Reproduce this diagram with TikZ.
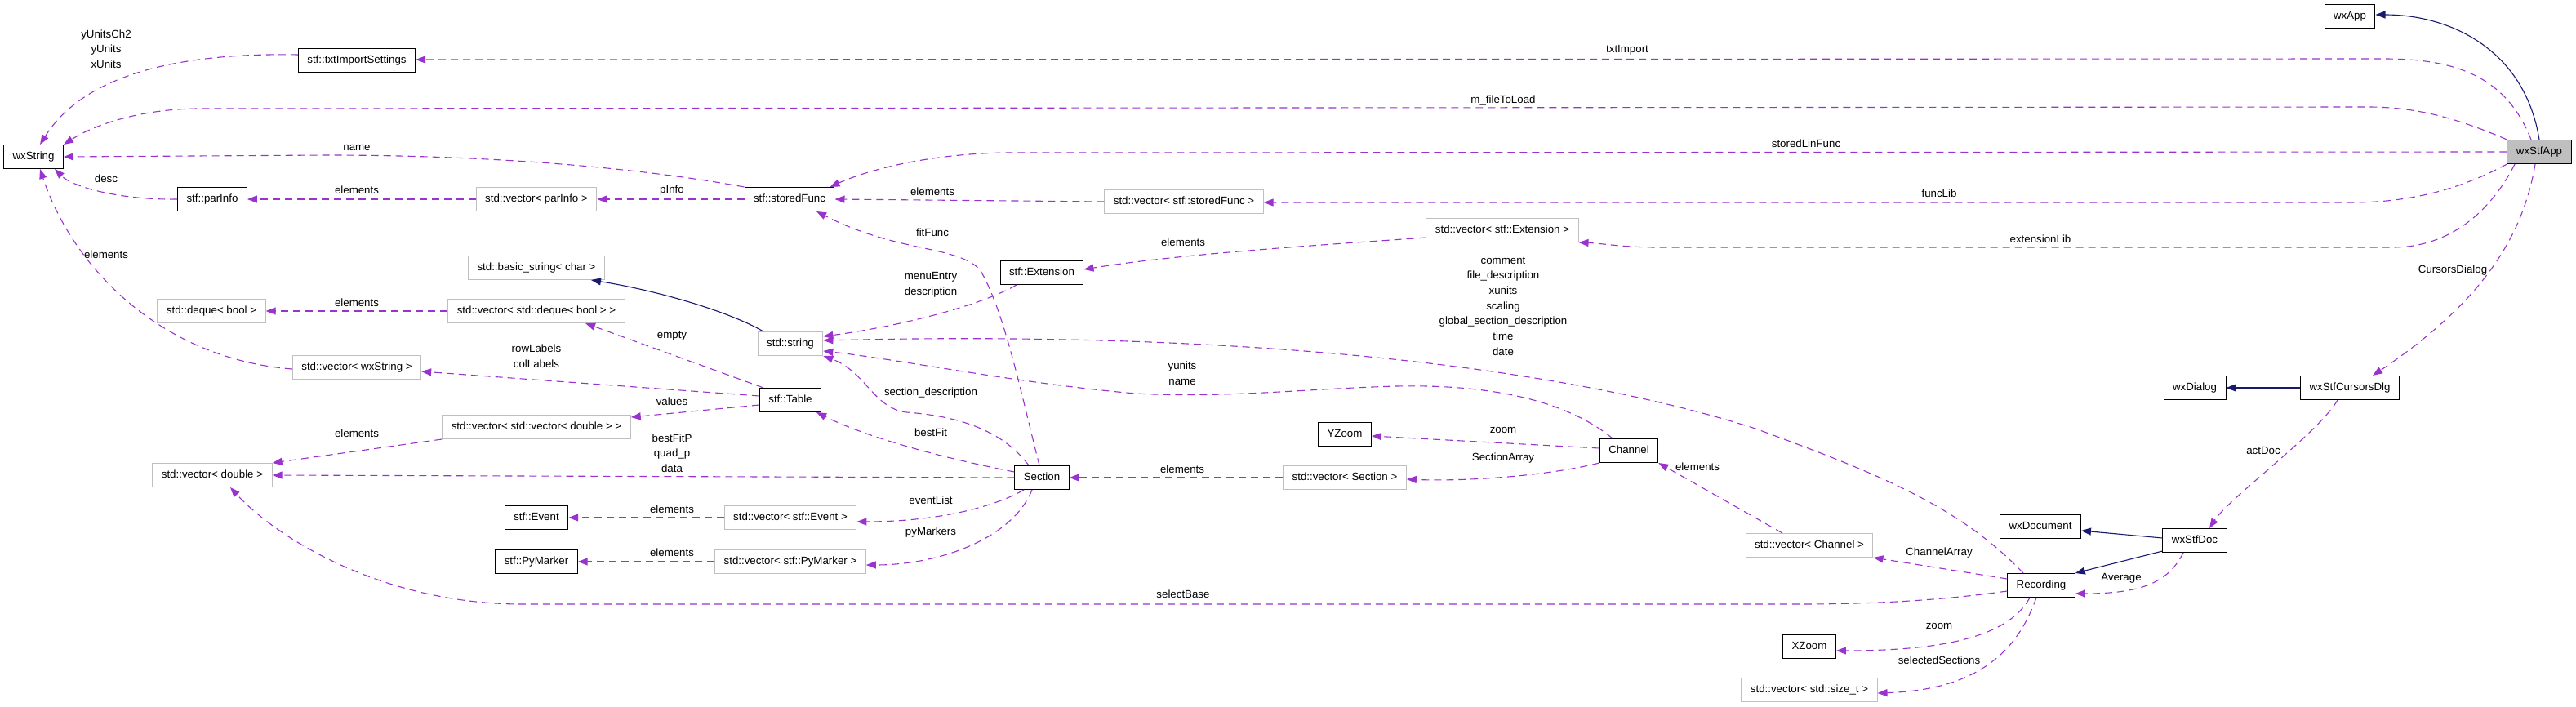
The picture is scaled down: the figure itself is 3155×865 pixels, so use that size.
\documentclass[tikz,border=0pt]{standalone}
\usepackage{fontspec}
\setmainfont{Liberation Sans}
\usepackage{tikz}
\usetikzlibrary{arrows.meta}

\definecolor{usecol}{HTML}{9A32CD}
\definecolor{inhcol}{HTML}{191970}
\definecolor{boxgray}{HTML}{BFBFBF}

\tikzset{
  cls/.style={draw=black, line width=1pt, fill=white, font=\fontsize{13.3}{18.7}\selectfont,
    minimum height=29pt, inner xsep=11pt, inner ysep=0pt, text height=10pt, text depth=3pt},
  ext/.style={cls, draw=boxgray},
  mainbox/.style={cls, fill=boxgray},
  lbl/.style={font=\fontsize{13.3}{18.7}\selectfont, inner sep=0pt, align=center},
  uses/.style={draw=usecol, line width=1.1pt, dash pattern=on 9pt off 6pt,
    -{Triangle[length=12pt,width=9pt]}},
  inherits/.style={draw=inhcol, line width=1.1pt, -{Triangle[length=12pt,width=9pt]}}
}

\begin{document}
\begin{tikzpicture}[x=1pt, y=-1pt]
        \useasboundingbox (0,0) rectangle (3155,865);

        % Nodes
        \node[mainbox] (wxStfApp) at (3110,186) {wxStfApp};
        \node[cls] (wxApp) at (2878,20) {wxApp};
        \node[cls] (txtImportSettings) at (437,74) {stf::txtImportSettings};
        \node[cls] (wxString) at (41,192) {wxString};
        \node[cls] (parInfo) at (260,244) {stf::parInfo};
        \node[ext] (vecParInfo) at (657,244) {std::vector< parInfo >};
        \node[cls] (storedFunc) at (967,244) {stf::storedFunc};
        \node[ext] (vecStoredFunc) at (1450,247) {std::vector< stf::storedFunc >};
        \node[ext] (vecExtension) at (1840,282) {std::vector< stf::Extension >};
        \node[cls] (extension) at (1276,334) {stf::Extension};
        \node[ext] (basicString) at (657,328) {std::basic\_string< char >};
        \node[ext] (dequeBool) at (259,381) {std::deque< bool >};
        \node[ext] (vecDeque) at (657,381) {std::vector< std::deque< bool > >};
        \node[ext] (stdString) at (968,421) {std::string};
        \node[ext] (vecWxString) at (437,450) {std::vector< wxString >};
        \node[cls] (table) at (968,490) {stf::Table};
        \node[ext] (vecVecDouble) at (657,523) {std::vector< std::vector< double > >};
        \node[ext] (vecDouble) at (260,582) {std::vector< double >};
        \node[cls] (section) at (1276,585) {Section};
        \node[cls] (event) at (657,634) {stf::Event};
        \node[ext] (vecEvent) at (968,634) {std::vector< stf::Event >};
        \node[cls] (pyMarker) at (657,688) {stf::PyMarker};
        \node[ext] (vecPyMarker) at (968,688) {std::vector< stf::PyMarker >};
        \node[cls] (yZoom) at (1647,532) {YZoom};
        \node[cls] (channel) at (1995,552) {Channel};
        \node[ext] (vecSection) at (1647,585) {std::vector< Section >};
        \node[ext] (vecChannel) at (2216,668) {std::vector< Channel >};
        \node[cls] (wxDocument) at (2499,645) {wxDocument};
        \node[cls] (wxStfDoc) at (2688,662) {wxStfDoc};
        \node[cls] (recording) at (2500,717) {Recording};
        \node[cls] (xZoom) at (2216,792) {XZoom};
        \node[ext] (vecSizeT) at (2216,845) {std::vector< std::size\_t >};
        \node[cls] (wxDialog) at (2688,475) {wxDialog};
        \node[cls] (cursorsDlg) at (2878,475) {wxStfCursorsDlg};

        % Inheritance
        \draw[inherits] (wxStfApp.north) .. controls (3092,60) and (3000,18) .. ([yshift=2pt]wxApp.east);
        \draw[inherits] (cursorsDlg.west) -- (wxDialog.east);
        \draw[inherits] ([yshift=3pt]wxStfDoc.west) -- ([yshift=-5pt]wxDocument.east);
        \draw[inherits] ([yshift=2pt]wxStfDoc.south west) -- (recording.north east);
        \draw[inherits] ([xshift=-33pt]stdString.north) .. controls (890,380) and (800,355) .. ([xshift=67pt]basicString.south);

        % Members of wxStfApp
        \draw[uses] ([xshift=-10pt]wxStfApp.north) .. controls (3070,95) and (3010,72) .. (2920,72) -- ([yshift=1pt]txtImportSettings.east);
        \draw[uses] (wxStfApp.north west) .. controls (3010,145) and (2960,131) .. (2900,131) -- (245,133) .. controls (180,133) and (120,150) .. (wxString.north east);
        \draw[uses] (wxStfApp.west) -- (1240,187) .. controls (1150,187) and (1070,205) .. ([xshift=-6pt]storedFunc.north east);
        \draw[uses] (wxStfApp.south west) .. controls (3020,228) and (2960,248) .. (2880,248) -- ([yshift=-1pt]vecStoredFunc.east);
        \draw[uses] ([xshift=-30pt]wxStfApp.south) .. controls (3050,260) and (3000,303) .. (2930,303) -- (2030,303) .. controls (1990,303) and (1960,298) .. (vecExtension.south east);
        \draw[uses] ([xshift=-5pt]wxStfApp.south) .. controls (3090,290) and (3040,370) .. ([xshift=28pt]cursorsDlg.north);
        \draw[uses] ([xshift=-15pt]cursorsDlg.south) .. controls (2840,530) and (2730,610) .. ([xshift=18pt]wxStfDoc.north);
        \draw[uses] ([xshift=-14pt]wxStfDoc.south) .. controls (2655,715) and (2620,727) .. ([yshift=-10pt]recording.east);

        % Members of Recording
        \draw[uses] ([yshift=8pt]recording.west) -- (vecChannel.south east);
        \draw[uses] ([xshift=-14pt]recording.south) .. controls (2460,780) and (2380,797) .. ([yshift=-5pt]xZoom.east);
        \draw[uses] ([xshift=-6pt]recording.south) .. controls (2470,800) and (2420,845) .. ([yshift=-4pt]vecSizeT.east);
        \draw[uses] ([yshift=-7pt]recording.west) .. controls (2380,735) and (2300,740) .. (2200,740) -- (640,740) .. controls (470,740) and (340,660) .. ([xshift=22pt]vecDouble.south);
        \draw[uses] ([xshift=-22pt]recording.north) .. controls (2400,620) and (2300,580) .. (2150,525) .. controls (1900,445) and (1500,405) .. ([yshift=4pt]stdString.east);

        % Channel and Section
        \draw[uses] ([xshift=-33pt]vecChannel.north) -- (channel.south east);
        \draw[uses] ([yshift=3pt]channel.west) -- ([yshift=-2pt]yZoom.east);
        \draw[uses] (channel.south west) .. controls (1900,582) and (1800,590) .. ([yshift=-2pt]vecSection.east);
        \draw[uses] ([xshift=-20pt]channel.north) .. controls (1930,500) and (1850,470) .. (1710,473) .. controls (1600,476) and (1500,488) .. (1391,482) .. controls (1250,470) and (1100,440) .. ([yshift=-9pt]stdString.east);
        \draw[uses] (vecSection.west) -- (section.east);
        \draw[uses] ([yshift=7pt]section.west) .. controls (1150,560) and (1060,535) .. ([xshift=32pt]table.south);
        \draw[uses] (section.west) -- (vecDouble.east);
        \draw[uses] ([xshift=-22pt]section.south) .. controls (1220,620) and (1150,639) .. ([yshift=-5pt]vecEvent.east);
        \draw[uses] ([xshift=-12pt]section.south) .. controls (1240,660) and (1150,692) .. ([yshift=-4pt]vecPyMarker.east);
        \draw[uses] ([xshift=-16pt]section.north) .. controls (1230,530) and (1180,510) .. (1110,505) .. controls (1070,500) and (1060,455) .. (stdString.south east);
        \draw[uses] ([xshift=-3pt]section.north) .. controls (1250,480) and (1230,380) .. (1200,330) .. controls (1170,300) and (1100,310) .. ([xshift=33pt]storedFunc.south);

        % Remaining members
        \draw[uses] ([xshift=-31pt]extension.south) .. controls (1200,375) and (1100,400) .. ([yshift=9pt]stdString.east);
        \draw[uses] ([yshift=-9pt]vecExtension.west) .. controls (1650,298) and (1450,310) .. ([yshift=4pt]extension.east);
        \draw[uses] (vecStoredFunc.west) -- (storedFunc.east);
        \draw[uses] (storedFunc.west) -- (vecParInfo.east);
        \draw[uses] (storedFunc.north west) .. controls (780,205) and (600,190) .. (400,190) -- (wxString.east);
        \draw[uses] (vecParInfo.west) -- (parInfo.east);
        \draw[uses] (parInfo.west) .. controls (150,245) and (90,230) .. ([xshift=26pt]wxString.south);
        \draw[uses] ([yshift=7pt]txtImportSettings.west) .. controls (250,65) and (110,80) .. ([xshift=8pt]wxString.north);
        \draw[uses] ([yshift=-2pt]vecWxString.west) .. controls (200,440) and (90,330) .. ([xshift=8pt]wxString.south);
        \draw[uses] ([xshift=-33pt]table.north) -- ([xshift=60pt]vecDeque.south);
        \draw[uses] ([yshift=5pt]table.west) -- ([yshift=-5pt]vecWxString.east);
        \draw[uses] ([yshift=-6pt]table.west) -- ([yshift=12pt]vecVecDouble.east);
        \draw[uses] (vecVecDouble.south west) -- (vecDouble.north east);
        \draw[uses] (vecDeque.west) -- (dequeBool.east);
        \draw[uses] (vecEvent.west) -- (event.east);
        \draw[uses] (vecPyMarker.west) -- (pyMarker.east);

        % Labels
        \node[lbl] (lUnits) at (130,60) {yUnitsCh2\\yUnits\\xUnits};
        \node[lbl] (lTxtImport) at (1993,61) {txtImport};
        \node[lbl] (lFileToLoad) at (1841,123) {m\_fileToLoad};
        \node[lbl] (lStoredLinFunc) at (2212,176) {storedLinFunc};
        \node[lbl] (lName) at (437,181) {name};
        \node[lbl] (lDesc) at (130,219) {desc};
        \node[lbl] (lElemParInfo) at (437,233) {elements};
        \node[lbl] (lPInfo) at (823,233) {pInfo};
        \node[lbl] (lElemStoredFunc) at (1142,235) {elements};
        \node[lbl] (lFuncLib) at (2375,237) {funcLib};
        \node[lbl] (lFitFunc) at (1142,285) {fitFunc};
        \node[lbl] (lElemExtension) at (1449,297) {elements};
        \node[lbl] (lExtensionLib) at (2499,293) {extensionLib};
        \node[lbl] (lElemWxString) at (130,312) {elements};
        \node[lbl] (lRecStrings) at (1841,375) {comment\\file\_description\\xunits\\scaling\\global\_section\_description\\time\\date};
        \node[lbl] (lCursorsDialog) at (3004,331) {CursorsDialog};
        \node[lbl] (lMenuEntry) at (1140,349) {menuEntry\\description};
        \node[lbl] (lElemDeque) at (437,371) {elements};
        \node[lbl] (lEmpty) at (823,412) {empty};
        \node[lbl] (lRowCol) at (657,436) {rowLabels\\colLabels};
        \node[lbl] (lYunits) at (1448,457) {yunits\\name};
        \node[lbl] (lSectionDesc) at (1140,481) {section\_description};
        \node[lbl] (lValues) at (823,492) {values};
        \node[lbl] (lZoomY) at (1841,527) {zoom};
        \node[lbl] (lBestFit) at (1140,530) {bestFit};
        \node[lbl] (lElemVecDouble) at (437,531) {elements};
        \node[lbl] (lBestFitP) at (823,555) {bestFitP\\quad\_p\\data};
        \node[lbl] (lActDoc) at (2772,552) {actDoc};
        \node[lbl] (lSectionArray) at (1841,561) {SectionArray};
        \node[lbl] (lElemChannel) at (2079,572) {elements};
        \node[lbl] (lElemSection) at (1448,575) {elements};
        \node[lbl] (lEventList) at (1140,613) {eventList};
        \node[lbl] (lElemEvent) at (823,624) {elements};
        \node[lbl] (lPyMarkers) at (1140,652) {pyMarkers};
        \node[lbl] (lElemPyMarker) at (823,677) {elements};
        \node[lbl] (lChannelArray) at (2375,677) {ChannelArray};
        \node[lbl] (lAverage) at (2598,708) {Average};
        \node[lbl] (lSelectBase) at (1449,728) {selectBase};
        \node[lbl] (lZoomX) at (2375,767) {zoom};
        \node[lbl] (lSelectedSections) at (2375,809) {selectedSections};
    \end{tikzpicture}
\end{document}
